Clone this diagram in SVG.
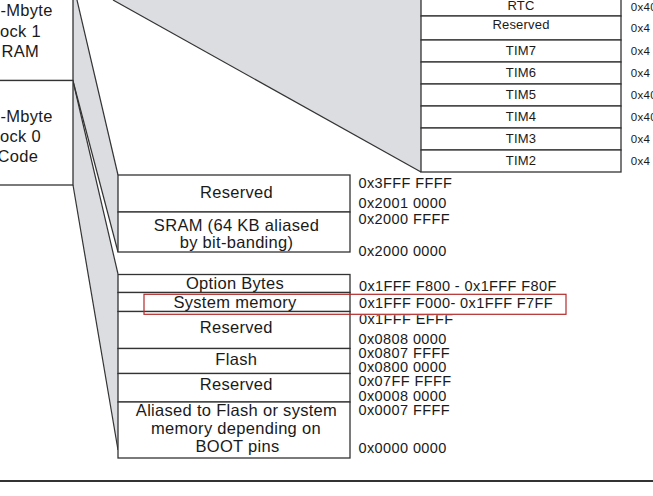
<svg xmlns="http://www.w3.org/2000/svg" width="653" height="496" viewBox="0 0 653 496">
<style>
.cell{fill:#fff;stroke:#333;stroke-width:1.3}
.wedge{fill:#dcdde0;stroke:none}
.edge{stroke:#333;stroke-width:1.2;fill:none}
.t{font-family:"Liberation Sans",Arial,sans-serif;font-size:16.5px;letter-spacing:0.3px;fill:#1a1a1a}
.c{text-anchor:middle}
.p{font-family:"Liberation Sans",Arial,sans-serif;font-size:13px;letter-spacing:0.2px;fill:#1a1a1a;text-anchor:middle}
.a{font-family:"Liberation Sans",Arial,sans-serif;font-size:14.5px;letter-spacing:0.4px;fill:#1a1a1a}
.pa{font-family:"Liberation Sans",Arial,sans-serif;font-size:11.5px;letter-spacing:0.3px;fill:#1a1a1a}
</style>
<defs>
<clipPath id="belowRed"><rect x="350" y="315.2" width="250" height="20"/></clipPath>
</defs>
<rect width="653" height="496" fill="#fff"/>
<g id="connectors">
<polygon class="wedge" points="113,0 421,0 421,172"/>
<polygon class="wedge" points="73,-17 118,175 118,252 73,81"/>
<polygon class="wedge" points="73,81 118,274 118,450 73,185"/>
<line class="edge" x1="113" y1="0" x2="421" y2="172"/>
<line class="edge" x1="73" y1="-17" x2="118" y2="175"/>
<line class="edge" x1="73" y1="81" x2="118" y2="252"/>
<line class="edge" x1="73" y1="81" x2="118" y2="274"/>
<line class="edge" x1="73" y1="185" x2="118" y2="450"/>
</g>
<g id="block1">
<rect class="cell" x="-10" y="-20" width="83" height="100.5"/>
<text class="t" x="0.5" y="15.7">-Mbyte</text>
<text class="t" x="0" y="37">ock 1</text>
<text class="t" x="1.5" y="56.7">RAM</text>
</g>
<g id="block0">
<rect class="cell" x="-10" y="80.5" width="83" height="104.5"/>
<text class="t" x="0.5" y="121.7">-Mbyte</text>
<text class="t" x="0" y="141.7">ock 0</text>
<text class="t" x="-2.5" y="161.7">Code</text>
</g>
<g id="sram-region">
<rect class="cell" x="118" y="175" width="232" height="37"/>
<text class="t c" x="236.5" y="198.3">Reserved</text>
<rect class="cell" x="118" y="212" width="232" height="40"/>
<text class="t c" x="236.5" y="230.7">SRAM (64 KB aliased</text>
<text class="t c" x="236.5" y="247.7">by bit-banding)</text>
<text class="a" x="358.5" y="188.3">0x3FFF FFFF</text>
<text class="a" x="358.5" y="207.7">0x2001 0000</text>
<text class="a" x="358.5" y="224">0x2000 FFFF</text>
<text class="a" x="358.5" y="256">0x2000 0000</text>
</g>
<g id="code-region">
<rect class="cell" x="118" y="274.5" width="232" height="18"/>
<text class="t c" x="235" y="289.3">Option Bytes</text>
<rect class="cell" x="118" y="292.5" width="232" height="19"/>
<text class="t c" x="235" y="307.7">System memory</text>
<rect class="cell" x="118" y="311.5" width="232" height="37"/>
<text class="t c" x="236.3" y="332.7">Reserved</text>
<rect class="cell" x="118" y="348.5" width="232" height="25"/>
<text class="t c" x="236.3" y="365">Flash</text>
<rect class="cell" x="118" y="373.5" width="232" height="28.5"/>
<text class="t c" x="236.3" y="390">Reserved</text>
<rect class="cell" x="118" y="402" width="232" height="56"/>
<text class="t c" x="236.5" y="416">Aliased to Flash or system</text>
<text class="t c" x="236" y="434.3">memory depending on</text>
<text class="t c" x="237.5" y="451.5">BOOT pins</text>
<text class="a" x="359" y="291">0x1FFF F800 - 0x1FFF F80F</text>
<text class="a" x="359" y="307.7">0x1FFF F000- 0x1FFF F7FF</text>
<text class="a" x="359" y="324" clip-path="url(#belowRed)">0x1FFF EFFF</text>
<text class="a" x="358.5" y="343.5">0x0808 0000</text>
<text class="a" x="358.5" y="357.7">0x0807 FFFF</text>
<text class="a" x="358.5" y="372">0x0800 0000</text>
<text class="a" x="358.5" y="386.3">0x07FF FFFF</text>
<text class="a" x="358.5" y="400.7">0x0008 0000</text>
<text class="a" x="358.5" y="415">0x0007 FFFF</text>
<text class="a" x="358.5" y="452.7">0x0000 0000</text>
</g>
<g id="apb1-region">
<rect class="cell" x="421" y="-10" width="200" height="26"/>
<text class="p" x="521" y="9.5">RTC</text>
<rect class="cell" x="421" y="16" width="200" height="24"/>
<text class="p" x="521" y="29.3">Reserved</text>
<rect class="cell" x="421" y="40" width="200" height="22"/>
<text class="p" x="521" y="55">TIM7</text>
<rect class="cell" x="421" y="62" width="200" height="22"/>
<text class="p" x="521" y="77">TIM6</text>
<rect class="cell" x="421" y="84" width="200" height="22"/>
<text class="p" x="521" y="99">TIM5</text>
<rect class="cell" x="421" y="106" width="200" height="22"/>
<text class="p" x="521" y="121">TIM4</text>
<rect class="cell" x="421" y="128" width="200" height="22"/>
<text class="p" x="521" y="143">TIM3</text>
<rect class="cell" x="421" y="150" width="200" height="22"/>
<text class="p" x="521" y="165">TIM2</text>
<text class="pa" x="630.7" y="11">0x40</text>
<text class="pa" x="630.7" y="32">0x4</text>
<text class="pa" x="630.7" y="55">0x4</text>
<text class="pa" x="630.7" y="77">0x4</text>
<text class="pa" x="630.7" y="99">0x40</text>
<text class="pa" x="630.7" y="121">0x40</text>
<text class="pa" x="630.7" y="143">0x4</text>
<text class="pa" x="630.7" y="165">0x4</text>
</g>
<rect id="highlight" x="144" y="294.3" width="422" height="20" fill="none" stroke="#b22a2a" stroke-width="1.2"/>
<line id="bottom-rule" x1="0" y1="481" x2="653" y2="481" stroke="#333" stroke-width="2"/>
</svg>
